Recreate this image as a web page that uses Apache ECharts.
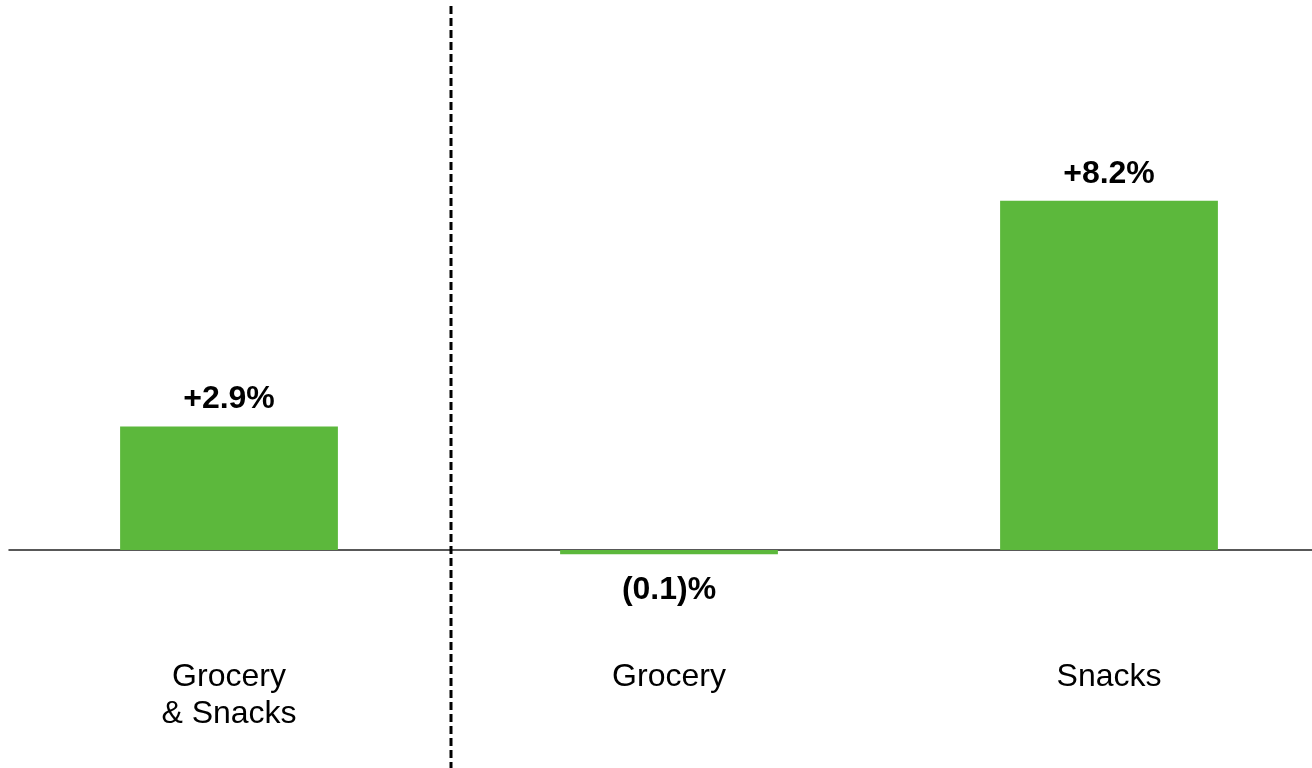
<!DOCTYPE html>
<html>
<head>
<meta charset="utf-8">
<script src="https://cdn.jsdelivr.net/npm/echarts@6/dist/echarts.min.js"></script>
<style>
html,body{margin:0;padding:0;background:#fff;}
#chart{width:1312px;height:768px;}
</style>
</head>
<body>
<div id="chart"></div>
<script>
const categories = ['Grocery\n& Snacks', 'Grocery', 'Snacks'];
const growthValues = [2.9, -0.1, 8.2];

const chart = echarts.init(document.getElementById('chart'), null, {renderer: 'canvas'});

function fmt(v) {
  return v >= 0 ? '+' + v.toFixed(1) + '%' : '(' + Math.abs(v).toFixed(1) + ')%';
}

const option = {
  animation: false,
  backgroundColor: '#ffffff',
  grid: {left: 9, width: 1320, top: 39, height: 511, containLabel: false, outerBoundsMode: 'none'},
  xAxis: {
    type: 'category',
    data: categories,
    axisLine: {show: true, onZero: false, lineStyle: {color: '#222', width: 1.5}},
    axisTick: {show: false},
    axisLabel: {
      interval: 0,
      margin: 109,
      fontFamily: 'Liberation Sans, Arial, sans-serif',
      fontSize: 32,
      lineHeight: 37,
      color: '#000'
    },
    splitLine: {show: false}
  },
  yAxis: {
    type: 'value',
    min: 0,
    max: 12,
    show: false,
    splitLine: {show: false}
  },
  series: [{
    type: 'bar',
    clip: false,
    barWidth: '49.5%',
    itemStyle: {color: '#5cb83c'},
    data: growthValues.map(v => ({
      value: v,
      label: {
        show: true,
        position: v >= 0 ? 'top' : 'bottom',
        distance: v >= 0 ? 11 : 20,
        formatter: p => fmt(p.value),
        fontFamily: 'Liberation Sans, Arial, sans-serif',
        fontWeight: 'bold',
        fontSize: 32,
        color: '#000'
      }
    }))
  }]
};
chart.setOption(option);

// dashed divider between first and second category
const p0 = chart.convertToPixel({xAxisIndex: 0}, 0);
const p1 = chart.convertToPixel({xAxisIndex: 0}, 1);
const dividerX = Math.round((p0 + p1) / 2) + 2;
chart.setOption({
  graphic: [{
    type: 'line',
    shape: {x1: dividerX, y1: 6, x2: dividerX, y2: 768},
    style: {stroke: '#000', lineWidth: 3, lineDash: [8, 4]},
    z: 10
  }]
});
</script>
</body>
</html>
